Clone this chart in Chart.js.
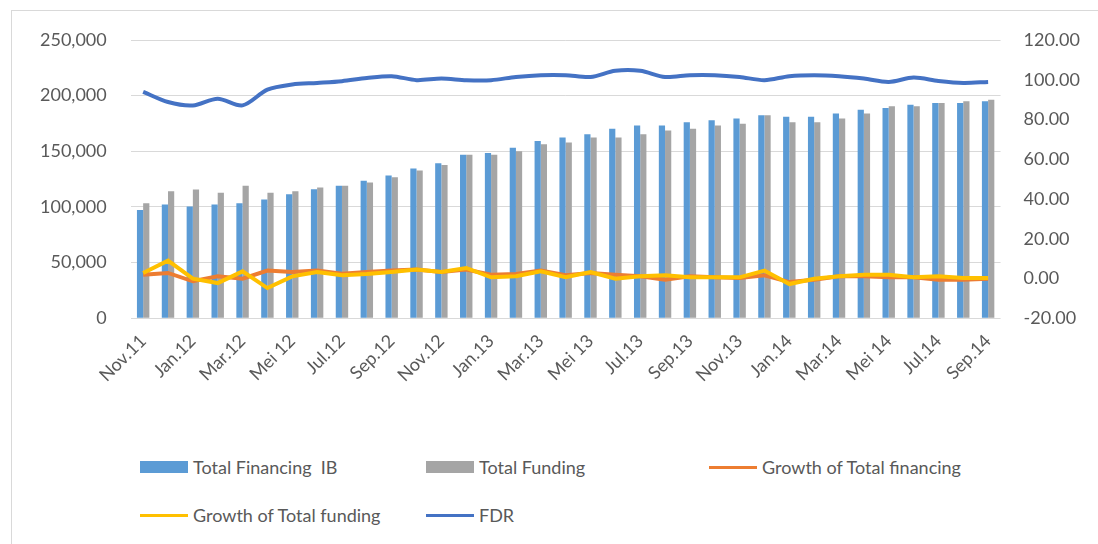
<!DOCTYPE html>
<html>
<head>
  <meta charset="utf-8" />
  <title>Financing vs Funding</title>
  <style>
    body { margin: 0; background: #fff; font-family: Lato, sans-serif; }
    #wrap { position: relative; width: 1098px; height: 544px; overflow: hidden; }
    #frame { position: absolute; left: 11px; top: 10px; width: 1200px; height: 600px;
      border-left: 1px solid #d9d9d9; border-top: 1px solid #d9d9d9; }
    #box { position: absolute; left: 0; top: 0; width: 1103px; height: 440px; }
    .lg { position: absolute; font-size: 18px; color: #595959; white-space: pre; line-height: 20px; }
    .lg i { position: absolute; left: 0; }
    .lg span { position: absolute; left: 53px; top: 0; }
  </style>
  <script src="https://cdn.jsdelivr.net/npm/chart.js"></script>
</head>
<body>
<div id="wrap">
  <div id="frame"></div>
  <div id="box"><canvas id="c"></canvas></div>
  <div id="legend"></div>
</div>
<script>
const months = ['Nov.11','Des.11','Jan.12','Feb.12','Mar.12','Apr.12','Mei 12','Jun.12','Jul.12','Agu.12','Sep.12','Okt.12',
  'Nov.12','Des.12','Jan.13','Feb.13','Mar.13','Apr.13','Mei 13','Jun.13','Jul.13','Agu.13','Sep.13','Okt.13',
  'Nov.13','Des.13','Jan.14','Feb.14','Mar.14','Apr.14','Mei 14','Jun.14','Jul.14','Agu.14','Sep.14'];

const financing = [97300,102100,100300,102100,103300,106600,111400,116000,119000,123500,128300,134600,139200,147000,148500,153300,159300,
  162300,165400,170200,173200,173200,176200,178000,179500,182500,181000,181000,184000,187300,188900,191900,193400,193400,194900];
const funding = [103300,114200,115700,112700,119000,112700,114200,117500,119000,122000,126800,132800,137700,147000,147000,150000,156300,
  157800,162300,162300,165400,168700,170200,173200,174700,182500,176200,176200,179500,184000,190400,190400,193400,194900,196400];
const growthFinancing = [1.9,2.8,-1.4,1.1,-0.1,4.0,3.3,4.0,2.4,3.3,4.0,4.5,3.3,4.5,1.9,2.3,4.0,
  1.6,2.8,1.9,1.1,-0.6,1.1,0.6,0.2,1.6,-1.8,-0.6,1.1,1.1,0.6,0.6,-0.6,-0.6,-0.1];
const growthFunding = [2.8,9.0,-0.1,-2.3,3.6,-4.8,1.1,3.3,1.6,2.3,3.3,4.5,3.3,5.3,0.6,1.1,3.6,
  0.6,3.3,-0.1,1.1,1.6,0.6,0.6,0.6,4.0,-2.8,-0.1,1.1,1.9,1.9,0.6,1.1,0.2,0.2];
const fdr = [93.9,88.8,87.1,90.5,87.1,95.0,97.6,98.4,99.3,100.9,101.8,99.8,100.6,99.8,99.8,101.4,102.3,
  102.3,101.4,104.5,104.5,101.4,102.3,102.3,101.4,99.8,101.8,102.3,101.8,100.6,98.9,101.1,99.4,98.4,98.9];

const txt = '#595959';
const font = { family: 'Lato', size: 18 };

const chart = new Chart(document.getElementById('c'), {
  type: 'bar',
  data: {
    labels: months,
    datasets: [
      { label: 'Total Financing  IB', data: financing, backgroundColor: '#5b9bd5', yAxisID: 'y', order: 4,
        categoryPercentage: 0.5, barPercentage: 1 },
      { label: 'Total Funding', data: funding, backgroundColor: '#a5a5a5', yAxisID: 'y', order: 5,
        categoryPercentage: 0.5, barPercentage: 1 },
      { type: 'line', label: 'Growth of Total financing', data: growthFinancing, borderColor: '#ed7d31',
        borderWidth: 4, pointRadius: 0, yAxisID: 'y1', order: 3 },
      { type: 'line', label: 'Growth of Total funding', data: growthFunding, borderColor: '#ffc000',
        borderWidth: 4, pointRadius: 0, yAxisID: 'y1', order: 2 },
      { type: 'line', label: 'FDR', data: fdr, borderColor: '#4472c4',
        borderWidth: 4, pointRadius: 0, tension: 0.3, yAxisID: 'y1', order: 1 }
    ]
  },
  options: {
    responsive: true,
    maintainAspectRatio: false,
    animation: false,
    layout: { padding: { left: 16, right: 0, top: 40, bottom: 50 } },
    plugins: { legend: { display: false }, tooltip: { enabled: false } },
    scales: {
      x: {
        grid: { display: false },
        border: { display: false },
        ticks: {
          color: txt, font: font, autoSkip: false, minRotation: 45, maxRotation: 45, padding: 4,
          callback: function(v, i) { return i % 2 === 0 ? months[i] : ''; }
        }
      },
      y: {
        position: 'left', min: 0, max: 250000,
        grid: { color: '#d9d9d9', drawTicks: false },
        border: { display: false },
        ticks: { color: txt, font: font, stepSize: 50000, padding: 24,
          callback: v => v.toLocaleString('en-US') }
      },
      y1: {
        position: 'right', min: -20, max: 120,
        grid: { display: false, drawTicks: false },
        border: { display: false },
        ticks: { color: txt, font: font, stepSize: 20, padding: 23,
          callback: v => v.toFixed(2) }
      }
    }
  }
});

// legend laid out in columns like the source
const slots = [[140, 457], [426, 457], [709, 457], [140, 505], [426, 505]];
const legend = document.getElementById('legend');
chart.data.datasets.forEach((ds, i) => {
  const d = document.createElement('div');
  d.className = 'lg';
  d.style.left = slots[i][0] + 'px';
  d.style.top = slots[i][1] + 'px';
  const isBar = !ds.type;
  const sw = document.createElement('i');
  sw.style.width = '48px';
  sw.style.height = isBar ? '12px' : '3px';
  sw.style.top = isBar ? '4px' : '9px';
  sw.style.background = isBar ? ds.backgroundColor : ds.borderColor;
  const s = document.createElement('span');
  s.textContent = ds.label;
  d.appendChild(sw); d.appendChild(s);
  legend.appendChild(d);
});
</script>
</body>
</html>
